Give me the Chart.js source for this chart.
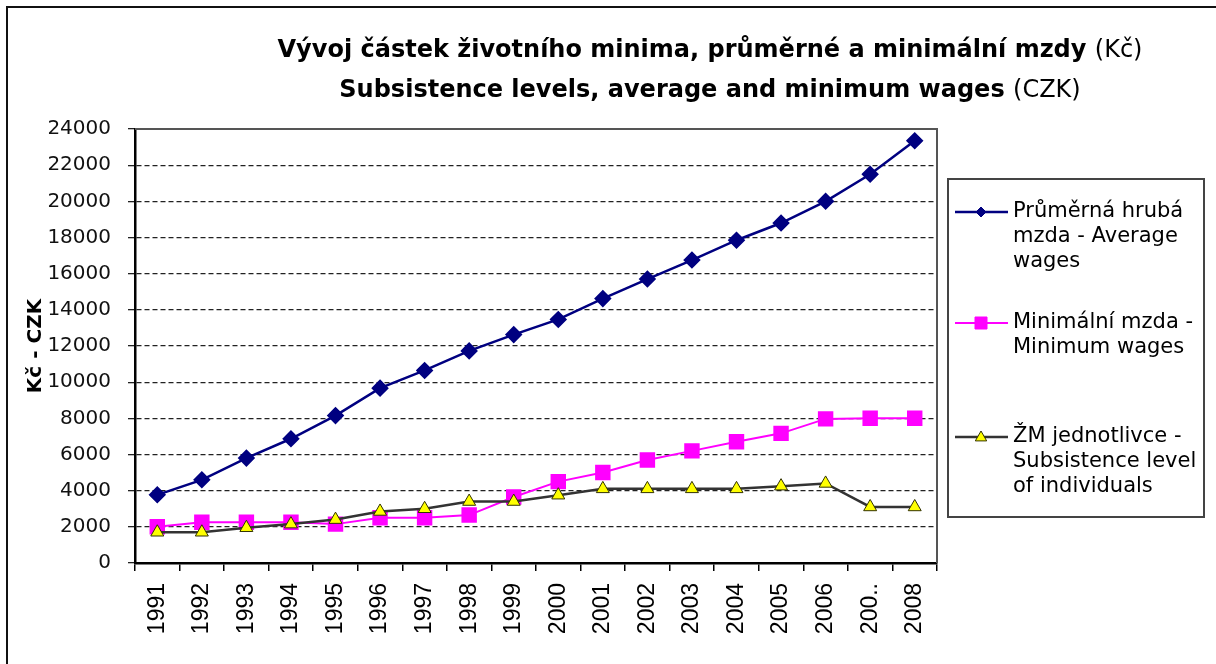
<!DOCTYPE html>
<html>
<head>
<meta charset="utf-8">
<script src="https://cdn.jsdelivr.net/npm/chart.js@4/dist/chart.umd.min.js"></script>
<style>
  body { margin: 0; background: #fff; }
  #wrap { width: 1216px; height: 664px; position: relative; }
</style>
</head>
<body>
<div id="wrap"><canvas id="wages-chart" width="1216" height="664"></canvas></div>
<script>
var years = ['1991', '1992', '1993', '1994', '1995', '1996', '1997', '1998', '1999',
  '2000', '2001', '2002', '2003', '2004', '2005', '2006', '200..', '2008'];
var averageWages = [3770, 4600, 5800, 6870, 8150, 9670, 10650, 11730, 12630,
  13470, 14620, 15700, 16750, 17850, 18800, 20000, 21500, 23350];
var minimumWages = [2000, 2250, 2250, 2250, 2150, 2500, 2500, 2650, 3650,
  4500, 5000, 5700, 6200, 6700, 7170, 7970, 8000, 8000];
var subsistence = [1700, 1700, 1950, 2150, 2400, 2850, 3000, 3400, 3400,
  3750, 4100, 4100, 4100, 4100, 4250, 4400, 3100, 3100];

var titleLine1 = ['Vývoj částek životního minima, průměrné a minimální mzdy ', '(Kč)'];
var titleLine2 = ['Subsistence levels, average and minimum wages ', '(CZK)'];
var yAxisTitle = 'Kč - CZK';
var legendLines = [
  ['Průměrná hrubá', 'mzda - Average', 'wages'],
  ['Minimální mzda -', 'Minimum wages'],
  ['ŽM jednotlivce -', 'Subsistence level', 'of individuals']
];

// draws a legend marker by hand
function drawMarker(ctx, kind, x, y, r, fill, stroke) {
  ctx.save();
  ctx.fillStyle = fill;
  ctx.strokeStyle = stroke;
  ctx.lineWidth = 1;
  ctx.beginPath();
  if (kind === 'diamond') {
    ctx.moveTo(x, y - r); ctx.lineTo(x + r, y); ctx.lineTo(x, y + r); ctx.lineTo(x - r, y);
  } else if (kind === 'square') {
    ctx.rect(x - r, y - r, 2 * r, 2 * r);
  } else {
    ctx.moveTo(x, y - r); ctx.lineTo(x + r * 0.95, y + r * 0.65); ctx.lineTo(x - r * 0.95, y + r * 0.65);
  }
  ctx.closePath();
  ctx.fill();
  ctx.stroke();
  ctx.restore();
}

function drawMixed(ctx, parts, cx, y) {
  var fonts = ['bold 24px "DejaVu Sans"', '24px "DejaVu Sans"'];
  var total = 0;
  parts.forEach(function (p, i) { ctx.font = fonts[i]; total += ctx.measureText(p).width; });
  var x = cx - total / 2;
  parts.forEach(function (p, i) {
    ctx.font = fonts[i];
    ctx.fillText(p, x, y);
    x += ctx.measureText(p).width;
  });
}

var framePlugin = {
  id: 'frame',
  beforeDatasetsDraw: function (chart) {
    var a = chart.chartArea, ctx = chart.ctx;
    ctx.save();
    ctx.strokeStyle = '#555';
    ctx.lineWidth = 2;
    ctx.beginPath();
    ctx.moveTo(a.left, a.top);
    ctx.lineTo(a.right, a.top);
    ctx.lineTo(a.right, a.bottom);
    ctx.stroke();
    ctx.restore();
  },
  afterDraw: function (chart) {
    var ctx = chart.ctx;
    ctx.save();
    // outer frame (left + top only)
    ctx.strokeStyle = '#111';
    ctx.lineWidth = 2;
    ctx.beginPath();
    ctx.moveTo(7, 664);
    ctx.lineTo(7, 7);
    ctx.lineTo(1216, 7);
    ctx.stroke();

    // title
    ctx.fillStyle = '#000';
    ctx.textBaseline = 'middle';
    ctx.textAlign = 'left';
    drawMixed(ctx, titleLine1, 710, 51);
    drawMixed(ctx, titleLine2, 710, 91);

    // legend
    ctx.fillStyle = '#fff';
    ctx.fillRect(948, 179, 256, 338);
    ctx.strokeStyle = '#444';
    ctx.lineWidth = 2;
    ctx.strokeRect(948, 179, 256, 338);
    var tops = [212, 323, 437];
    var ds = chart.data.datasets;
    var kinds = ['diamond', 'square', 'triangle'];
    var sizes = [5, 6, 6];
    ctx.font = '21px "DejaVu Sans"';
    for (var i = 0; i < 3; i++) {
      var y = tops[i];
      ctx.strokeStyle = ds[i].borderColor;
      ctx.lineWidth = ds[i].borderWidth;
      ctx.beginPath();
      ctx.moveTo(955, y);
      ctx.lineTo(1008, y);
      ctx.stroke();
      drawMarker(ctx, kinds[i], 981, y, sizes[i], ds[i].pointBackgroundColor, ds[i].pointBorderColor);
      ctx.fillStyle = '#000';
      legendLines[i].forEach(function (line, j) {
        ctx.fillText(line, 1013, y + j * 25);
      });
    }
    ctx.restore();
  }
};

var ctx = document.getElementById('wages-chart').getContext('2d');
var myChart = new Chart(ctx, {
  type: 'line',
  data: {
    labels: years,
    datasets: [{
      label: 'Průměrná hrubá mzda - Average wages',
      data: averageWages,
      borderColor: '#000080',
      borderWidth: 2.5,
      pointStyle: 'rectRot',
      pointRadius: 7,
      pointBackgroundColor: '#000080',
      pointBorderColor: '#000080',
      order: 2
    },
    {
      label: 'Minimální mzda - Minimum wages',
      data: minimumWages,
      borderColor: '#ff00ff',
      borderWidth: 2,
      pointStyle: 'rect',
      pointRadius: 9.5,
      pointBackgroundColor: '#ff00ff',
      pointBorderColor: '#ff00ff',
      order: 1
    },
    {
      label: 'ŽM jednotlivce - Subsistence level of individuals',
      data: subsistence,
      borderColor: '#333333',
      borderWidth: 2.5,
      pointStyle: 'triangle',
      pointRadius: 7.5,
      pointBackgroundColor: '#ffff00',
      pointBorderColor: '#333300',
      pointBorderWidth: 1,
      order: 0
    }]
  },
  options: {
    responsive: false,
    animation: false,
    layout: {
      padding: { top: 129, right: 279, left: 0, bottom: 0 }
    },
    scales: {
      x: {
        offset: true,
        grid: {
          offset: true,
          drawOnChartArea: false,
          drawTicks: true,
          tickLength: 8,
          color: '#000',
          lineWidth: 1.5
        },
        border: { color: '#000', width: 2.5 },
        ticks: {
          minRotation: 90,
          maxRotation: 90,
          autoSkip: false,
          padding: 12,
          color: '#000',
          font: { family: 'Liberation Sans', size: 23 }
        },
        afterFit: function (scale) { scale.height = 101; }
      },
      y: {
        min: 0,
        max: 24000,
        grid: {
          color: '#222',
          lineWidth: 1.3,
          tickLength: 7,
          tickBorderDash: []
        },
        border: { color: '#000', width: 2.5, dash: [5, 3] },
        ticks: {
          stepSize: 2000,
          padding: 17,
          color: '#111',
          font: { family: 'DejaVu Sans', size: 20 },
          callback: function (value) { return String(value); }
        },
        title: {
          display: true,
          text: yAxisTitle,
          color: '#000',
          padding: { top: 24, bottom: 0 },
          font: { family: 'DejaVu Sans', size: 20, weight: 'bold' }
        },
        afterFit: function (scale) { scale.width = 135; }
      }
    },
    plugins: {
      legend: { display: false },
      title: { display: false },
      tooltip: { enabled: false }
    }
  },
  plugins: [framePlugin]
});
</script>
</body>
</html>
